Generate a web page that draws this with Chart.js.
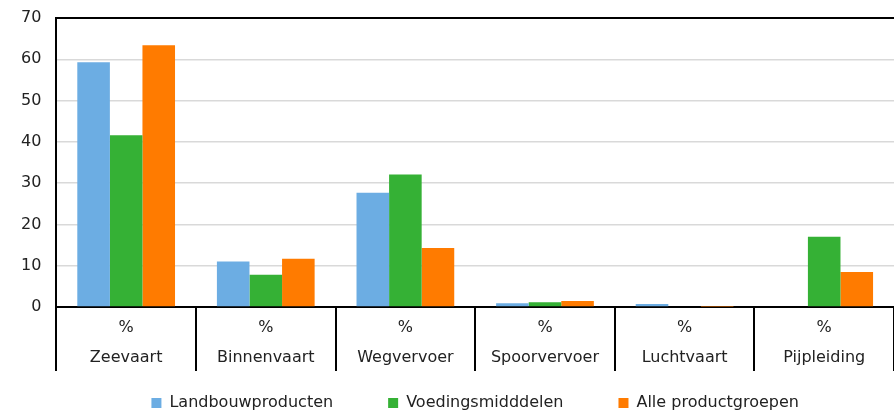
<!DOCTYPE html>
<html>
<head>
<meta charset="utf-8">
<script src="https://cdn.jsdelivr.net/npm/chart.js@4"></script>
<style>
  html, body { margin: 0; padding: 0; background: #fff; }
  #wrap { width: 894px; height: 411px; }
</style>
</head>
<body>
<div id="wrap"><canvas id="c"></canvas></div>
<script>
// Vervoerswijzen (categorieën) en eenheid per categorie
const modes = ['Zeevaart', 'Binnenvaart', 'Wegvervoer', 'Spoorvervoer', 'Luchtvaart', 'Pijpleiding'];
const unit = '%';

// Aandeel per vervoerswijze (%)
const landbouwproducten = [59.3, 11.0, 27.7, 0.9, 0.7, 0];
const voedingsmiddelen = [41.6, 7.8, 32.1, 1.15, 0, 17.0];
const alleProductgroepen = [63.4, 11.7, 14.3, 1.45, 0.05, 8.5];

const seriesNames = ['Landbouwproducten', 'Voedingsmidddelen', 'Alle productgroepen'];
const yTicks = [0, 10, 20, 30, 40, 50, 60, 70];

const colors = ['#6cade3', '#35b135', '#ff7b00'];
const font = { family: 'DejaVu Sans', size: 16 };

new Chart(document.getElementById('c'), {
  type: 'bar',
  data: {
    labels: modes.map(m => [unit, m]),
    datasets: [landbouwproducten, voedingsmiddelen, alleProductgroepen].map((d, i) => ({
      label: seriesNames[i],
      data: d,
      backgroundColor: colors[i],
      borderWidth: 0,
      categoryPercentage: 0.7,
      barPercentage: 1.0
    }))
  },
  options: {
    responsive: true,
    maintainAspectRatio: false,
    animation: false,
    layout: { padding: { left: 21, top: 18, right: -2, bottom: -10 } },
    plugins: {
      tooltip: { enabled: false },
      legend: {
        position: 'bottom',
        fullSize: false,
        labels: {
          font: font,
          color: '#222',
          boxWidth: 10,
          boxHeight: 10,
          padding: 55
        }
      }
    },
    scales: {
      x: {
        // category separators hang below the axis; labels sit between them
        grid: {
          offset: true,
          drawOnChartArea: false,
          drawTicks: true,
          tickLength: 64,
          color: '#000',
          lineWidth: 2
        },
        border: { display: true, color: '#000', width: 2 },
        ticks: {
          font: { family: 'DejaVu Sans', size: 16, lineHeight: 1.875 },
          color: '#222',
          mirror: true,
          padding: -36,
          maxRotation: 0,
          autoSkip: false
        },
        afterFit: scale => { scale.height = 33; }
      },
      y: {
        min: 0,
        max: 70,
        afterBuildTicks: axis => { axis.ticks = yTicks.map(v => ({ value: v })); },
        grid: {
          drawTicks: true,
          tickLength: 15,
          tickColor: 'rgba(0,0,0,0)',
          color: ctx => (ctx.tick && ctx.tick.value === 70 ? '#000' : '#d9d9d9'),
          lineWidth: ctx => (ctx.tick && ctx.tick.value === 70 ? 2 : 1.5)
        },
        border: { display: true, color: '#000', width: 2 },
        ticks: {
          font: font,
          color: '#222',
          padding: 0
        }
      }
    }
  }
});
</script>
</body>
</html>
